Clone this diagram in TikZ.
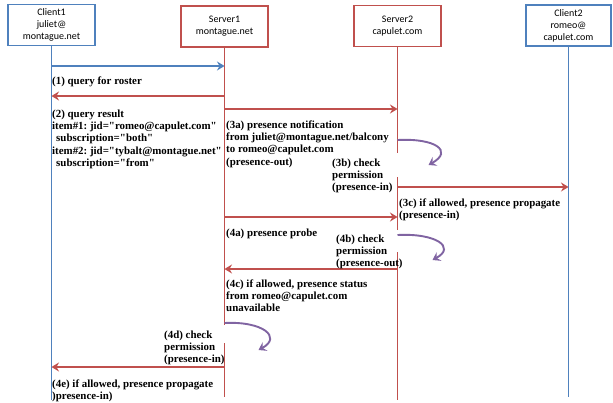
\documentclass[tikz,border=0pt]{standalone}
\usepackage{fontspec}
\newfontfamily\boxfont{Carlito}
\newfontfamily\lblfont{Liberation Serif}
\usetikzlibrary{arrows.meta}
\definecolor{cblue}{RGB}{79,129,189}
\definecolor{cred}{RGB}{192,80,77}
\definecolor{cpurple}{RGB}{128,100,162}
\frenchspacing
\begin{document}
\begin{tikzpicture}[x=1pt,y=-1pt,
  actorbox/.style={draw=#1, line width=1.5pt, fill=white, minimum width=87pt, minimum height=41pt,
    align=center, inner sep=0pt, font=\boxfont\fontsize{10}{12}\selectfont},
  life/.style={draw=#1, line width=1.5pt},
  msg/.style={draw=#1, line width=1.5pt, -{Stealth[length=7.5pt,width=9pt,inset=2.5pt]}},
  curl/.style={draw=cpurple, line width=1.9pt, -{Stealth[length=7.5pt,width=10pt,inset=3pt]}},
  lbl/.style={anchor=north west, align=left, inner sep=0pt,
    font=\lblfont\bfseries\fontsize{10.9}{12.3}\selectfont}]
\useasboundingbox (0,0) rectangle (613,402);

% actors
\node[actorbox=cblue] (c1) at (51.5,25) {Client1\\juliet@\\montague.net};
\node[actorbox=cred]  (s1) at (224.5,26.5) {Server1\\montague.net};
\node[actorbox=cred]  (s2) at (397.5,26) {Server2\\capulet.com};
\node[actorbox=cblue, minimum width=85pt] (c2) at (568.5,25.5) {Client2\\romeo@\\capulet.com};

% y levels
\coordinate (m1) at (0,66);
\coordinate (m2) at (0,96);
\coordinate (m3) at (0,109);
\coordinate (m4) at (0,187);
\coordinate (m5) at (0,217);
\coordinate (m6) at (0,269);
\coordinate (m7) at (0,367);
\coordinate (s2g1a) at (0,153);
\coordinate (s2g1b) at (0,177);
\coordinate (s2g2a) at (0,230);
\coordinate (s2g2b) at (0,252);
\coordinate (s1ga) at (0,325);
\coordinate (s1gb) at (0,343);
\coordinate (endA) at (0,400);
\coordinate (endB) at (0,397);

% lifelines
\draw[life=cblue] (c1.south) -- (c1 |- endA);
\draw[life=cred] (s1.south) -- (s1 |- s1ga);
\draw[life=cred] (s1 |- s1gb) -- (s1 |- endB);
\draw[life=cred] (s2.south) -- (s2 |- s2g1a);
\draw[life=cred] (s2 |- s2g1b) -- (s2 |- s2g2a);
\draw[life=cred] (s2 |- s2g2b) -- (s2 |- endA);
\draw[life=cblue] (c2.south) -- (c2 |- endB);

% messages
\draw[msg=cblue] (c1 |- m1) -- (s1 |- m1);
\draw[msg=cred] (s1 |- m2) -- (c1 |- m2);
\draw[msg=cred] (s1 |- m3) -- (s2 |- m3);
\draw[msg=cred] (s2 |- m4) -- (c2 |- m4);
\draw[msg=cred] (s1 |- m5) -- (s2 |- m5);
\draw[msg=cred] (s2 |- m6) -- (s1 |- m6);
\draw[msg=cred] (s1 |- m7) -- (c1 |- m7);

% self checks
\coordinate (k1) at (0,140);
\coordinate (k2) at (0,235);
\coordinate (k3) at (0,323);
\draw[curl] (s2 |- k1) .. controls +(38,-2) and +(25,-14) .. ++(31,25);
\draw[curl] (s2 |- k2) .. controls +(38,-2) and +(24,-13) .. ++(35,25);
\draw[curl] (s1 |- k3) .. controls +(38,-2) and +(24,-13) .. ++(34,27);

% labels
\node[lbl] (l1) at (52,76.5) {(1) query for roster};
\node[lbl] (l2) at (52,109.5) {(2) query result\\item\#1: jid="romeo@capulet.com"\\\hspace*{4pt}subscription="both"\\item\#2: jid="tybalt@montague.net"\\\hspace*{4pt}subscription="from"};
\node[lbl] (l3a) at (226,120.5) {(3a) presence notification\\from juliet@montague.net/balcony\\to romeo@capulet.com\\(presence-out)};
\node[lbl] (l3b) at (332,158.5) {(3b) check\\permission\\(presence-in)};
\node[lbl] (l3c) at (399,198.5) {(3c) if allowed, presence propagate\\(presence-in)};
\node[lbl] (l4a) at (226,228.5) {(4a) presence probe};
\node[lbl] (l4b) at (336,234.5) {(4b) check\\permission\\(presence-out)};
\node[lbl] (l4c) at (226,279.5) {(4c) if allowed, presence status\\from romeo@capulet.com\\unavailable};
\node[lbl] (l4d) at (164,330.5) {(4d) check\\permission\\(presence-in)};
\node[lbl] (l4e) at (52,379.5) {(4e) if allowed, presence propagate\\)presence-in)};
\end{tikzpicture}
\end{document}
